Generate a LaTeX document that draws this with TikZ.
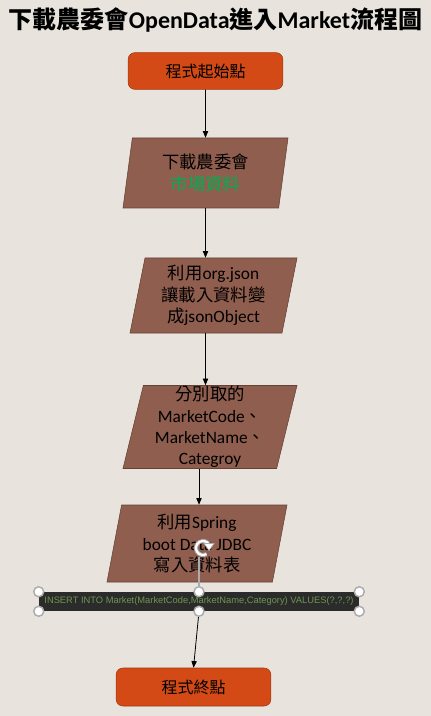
\documentclass[tikz,border=0pt]{standalone}
\usepackage{fontspec}
\setmainfont{Carlito}
\setsansfont{Liberation Sans}
\newfontfamily\cjk{Noto Sans CJK TC}
\definecolor{bgbeige}{RGB}{232, 228, 221}
\definecolor{termred}{RGB}{211, 74, 23}
\definecolor{termedge}{RGB}{160, 56, 16}
\definecolor{iobrown}{RGB}{143, 94, 78}
\definecolor{ioedge}{RGB}{100, 66, 54}
\definecolor{sqldark}{RGB}{43, 43, 43}
\definecolor{sqlgreen}{RGB}{110, 150, 80}
\definecolor{datagreen}{RGB}{0, 176, 80}
\usetikzlibrary{shapes.geometric, arrows.meta, calc}

\begin{document}
\begin{tikzpicture}[
  x=0.75pt, y=-0.75pt,
  term/.style={draw=termedge, fill=termred, rounded corners=5pt, minimum width=116pt, minimum height=27.5pt, inner sep=0pt, font=\fontsize{12}{14}\selectfont},
  io/.style={trapezium, trapezium left angle=76, trapezium right angle=104, trapezium stretches body, draw=ioedge, fill=iobrown, align=center, inner sep=0pt, font=\fontsize{13}{16}\selectfont},
  sqlbox/.style={fill=sqldark, text=sqlgreen, minimum width=240pt, minimum height=14.25pt, inner sep=0pt, font=\sffamily\fontsize{7}{8}\selectfont},
  handle/.style={circle, fill=white, draw=gray!65, line width=1.1pt, minimum size=7.5pt, inner sep=0pt},
  arr/.style={-{Triangle[length=5pt, width=4pt]}, line width=0.6pt}
]
  \fill[bgbeige] (0,0) rectangle (431,716);
  \useasboundingbox (0,0) rectangle (431,716);

  \node[font=\fontsize{18}{21}\selectfont\bfseries] (title) at (215.5,20)
    {{\cjk 下載農委會}OpenData{\cjk 進入}Market{\cjk 流程圖}};

  \node[term] (start) at (205.5,71) {\cjk 程式起始點};

  \node[io, minimum width=123.75pt, minimum height=52.5pt] (fetch) at (205.5,173) {
    {\cjk 下載農委會}\\
    {\cjk\color{datagreen} 市場資料}
  };
  \node[io, minimum width=125.25pt, minimum height=56.25pt] (parse) at (213.5,295.5) {
    {\cjk 利用}org.json\\
    {\cjk 讓載入資料變}\\
    {\cjk 成}jsonObject
  };
  \node[io, minimum width=130.5pt, minimum height=62.25pt] (pick) at (210,427) {
    {\cjk 分別取的}\\
    MarketCode{\cjk 、}\\
    MarketName{\cjk 、}\\
    Categroy
  };
  \node[io, minimum width=135pt, minimum height=57.75pt] (write) at (197,543.5) {
    {\cjk 利用}Spring\\
    boot Data JDBC\\
    {\cjk 寫入資料表}
  };

  \node[sqlbox] (sql) at (199,601.5) {INSERT INTO Market(MarketCode,MarketName,Category) VALUES(?,?,?)};

  \node[term, minimum height=28.5pt] (stop) at (193.5,687) {\cjk 程式終點};

  \draw[arr] (start) -- (fetch);
  \draw[arr] (fetch.south -| start) -- (parse.north -| start);
  \draw[arr] (parse.south -| start) -- (pick.north -| start);
  \draw[arr] (pick.south -| sql) -- (write.north -| sql);
  \draw[arr] (sql.south) -- (stop.north);

  % selection handles of the text box
  \coordinate (rot) at (203,548);
  \draw[gray!65, line width=0.8pt] (sql.north) -- ($(rot)+(-4,9)$);
  \draw[gray!65, line width=3pt] ($(rot)+(60:7)$) arc (60:330:7);
  \draw[white, line width=1.6pt] ($(rot)+(60:7)$) arc (60:330:7);
  \fill[white, draw=gray!65, line width=0.5pt] ($(rot)+(330:7)+(-5,-1)$) -- ++(10,0) -- ++(-5,7) -- cycle;
  \foreach \a in {north west, north, north east, south west, south, south east}
    \node[handle] at (sql.\a) {};
\end{tikzpicture}
\end{document}
